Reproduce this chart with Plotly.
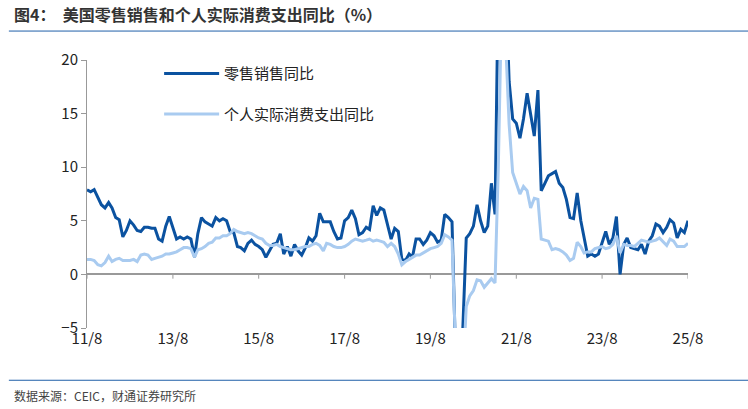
import plotly.graph_objects as go
import pandas as pd

dates = pd.date_range("2011-08-01", "2025-08-01", freq="MS")

retail = [
 7.9,7.7,7.9,7.2,6.5,
 6.2,6.7,6.2,5.3,5.1,3.5,4.1,5.0,4.6,4.1,4.0,4.4,
 4.4,4.3,4.3,3.3,3.1,4.5,5.4,4.4,3.3,3.5,3.3,3.5,
 3.3,1.6,3.8,5.3,4.9,4.7,4.5,5.3,5.0,5.2,5.0,4.0,
 3.9,2.6,2.5,2.2,2.9,3.2,2.8,2.6,2.3,1.6,2.2,2.8,
 2.9,3.8,1.9,2.6,1.7,2.8,2.2,1.8,2.5,3.4,3.1,3.6,
 5.7,4.9,4.9,4.9,4.0,3.3,3.4,5.0,5.3,6.0,5.2,3.7,
 3.9,4.4,4.2,6.4,5.5,6.2,6.0,4.5,3.3,4.3,4.0,1.4,
 1.3,1.9,1.6,3.3,3.3,2.8,3.2,3.9,3.6,3.0,3.2,5.6,
 5.3,4.9,-5.6,-19.9,-5.6,3.4,3.8,4.5,6.5,5.0,3.9,4.5,
 8.5,5.6,27.7,51.0,28.0,18.0,14.5,14.1,12.7,14.5,16.9,15.0,
 12.9,17.2,7.8,8.5,9.2,9.4,9.6,8.5,8.1,7.0,5.3,5.2,
 7.6,5.0,3.3,1.7,1.9,1.7,1.9,3.0,4.0,2.8,3.4,5.4,
 0.0,2.8,3.4,2.5,2.4,2.3,2.8,1.9,3.1,3.6,4.7,4.5,
 3.9,4.4,5.1,4.8,3.4,4.2,3.9,5.0,
]

pce = [
 1.4,1.4,1.3,0.9,0.8,
 1.1,1.7,1.2,1.4,1.5,1.3,1.3,1.3,1.4,1.2,1.8,1.9,
 1.8,1.4,1.5,1.6,1.7,1.9,1.9,2.0,2.1,2.3,2.5,2.5,
 2.4,1.6,2.3,2.4,2.6,2.9,3.0,3.4,3.4,3.6,3.6,3.8,
 4.2,4.0,3.9,3.8,3.9,3.8,3.6,3.4,3.3,2.9,2.7,2.7,
 2.8,2.6,2.5,2.4,2.3,2.3,2.4,2.5,2.6,2.6,2.8,2.9,
 2.7,2.2,2.9,2.8,2.6,2.5,2.5,2.6,2.8,3.1,3.3,3.2,
 3.1,3.2,3.3,3.1,3.2,3.1,3.0,2.6,2.9,2.6,1.9,0.9,
 1.2,1.4,1.6,1.8,1.8,2.0,2.2,2.4,2.5,2.6,2.9,3.7,
 3.5,3.2,-6.5,-17.0,-10.0,-3.0,-2.0,-1.5,-0.5,-0.6,-1.2,-0.8,
 -0.4,-0.8,10.0,27.0,22.0,14.0,9.5,8.5,7.5,8.2,7.8,6.2,
 7.1,7.0,3.3,3.2,3.1,2.3,2.4,2.3,2.1,1.8,1.3,1.5,
 3.0,2.6,2.0,2.1,2.1,2.4,2.5,2.6,2.4,2.5,2.8,3.6,
 2.0,2.8,2.7,2.7,2.6,2.9,3.2,3.1,3.0,3.1,3.2,3.4,
 3.0,2.7,3.3,3.1,2.6,2.6,2.6,2.9,
]

tick_dates = pd.date_range("2011-08-01", "2025-08-01", freq="24MS")
tick_labels = ["11/8", "13/8", "15/8", "17/8", "19/8", "21/8", "23/8", "25/8"]
y_ticks = [-5, 0, 5, 10, 15, 20]

font = "Noto Sans CJK SC, Noto Sans, sans-serif"
fig = go.Figure()
fig.add_trace(go.Scatter(x=dates, y=retail, mode="lines", name="零售销售同比", legendgroup="a",
                         line=dict(color="#0b52a0", width=3)))
fig.add_trace(go.Scatter(x=dates, y=pce, mode="lines", name="个人实际消费支出同比", legendgroup="b",
                         line=dict(color="#a9cbf0", width=3)))

shapes = [
    dict(type="line", xref="paper", yref="paper", x0=-0.13, x1=1.1, y0=1.108, y1=1.108,
         line=dict(color="#1f5fa8", width=1)),
    dict(type="line", xref="paper", yref="paper", x0=-0.13, x1=1.1, y0=-0.195, y1=-0.195,
         line=dict(color="#1f5fa8", width=1)),
]
for d in tick_dates:
    shapes.append(dict(type="line", xref="x", yref="y", x0=d, x1=d, y0=0, y1=-0.4,
                       line=dict(color="#999", width=1)))

fig.update_layout(
    width=748, height=409,
    margin=dict(l=87, r=60, t=60, b=81),
    paper_bgcolor="white", plot_bgcolor="white",
    font=dict(family=font, color="#222", size=15),
    showlegend=True,
    legend=dict(x=0.12, y=1.01, xanchor="left", yanchor="top", bgcolor="rgba(0,0,0,0)",
                font=dict(size=15), tracegroupgap=18, itemwidth=55),
    shapes=shapes,
    annotations=[
        dict(text="<b>图4：  美国零售销售和个人实际消费支出同比（%）</b>", xref="paper", yref="paper",
             x=-0.125, y=1.17, xanchor="left", yanchor="middle", showarrow=False,
             font=dict(size=16, color="#333")),
        dict(text="数据来源：CEIC，财通证券研究所", xref="paper", yref="paper",
             x=-0.125, y=-0.25, xanchor="left", yanchor="middle", showarrow=False,
             font=dict(size=12, color="#444")),
    ],
    xaxis=dict(range=[dates[0], dates[-1]], tickvals=tick_dates, ticktext=tick_labels,
               showgrid=False, showline=False, zeroline=False, ticks="",
               tickfont=dict(size=15, color="#222")),
    yaxis=dict(range=[-5, 20], tickvals=y_ticks, showgrid=False, zeroline=True,
               zerolinecolor="#999", zerolinewidth=1.5, showline=True, linecolor="#999",
               ticks="outside", ticklen=5, tickcolor="#999", tickfont=dict(size=15, color="#222")),
)
fig.write_html("out.html", config={"displayModeBar": False})
with open("out.html", encoding="utf-8") as f:
    html = f.read()
html = html.replace("<body>", '<body style="margin:0;overflow:hidden">', 1)
with open("out.html", "w", encoding="utf-8") as f:
    f.write(html)
